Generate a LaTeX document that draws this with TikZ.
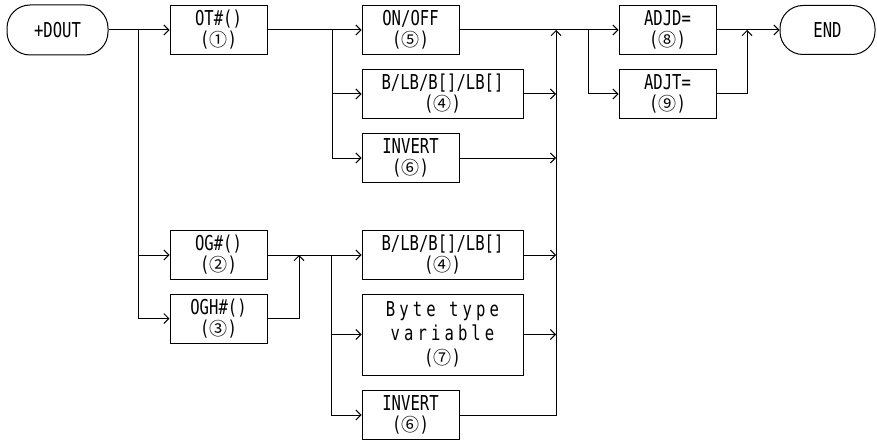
\documentclass[tikz,border=0pt]{standalone}
\usepackage{fontspec}
\setmonofont[FakeStretch=0.76]{DejaVu Sans Mono}
\newfontfamily\circfont{Noto Sans CJK JP}
\usetikzlibrary{arrows.meta}
\newcommand{\cn}[1]{({\circfont\fontsize{18}{21}\selectfont #1})}
\begin{document}
\begin{tikzpicture}[x=1pt,y=-1pt,
  box/.style={draw, line width=1pt, inner sep=0pt, align=center,
    font=\ttfamily\fontsize{20.5}{21}\selectfont},
  term/.style={box, rounded corners=23pt},
  flow/.style={line width=1pt},
  arr/.style={flow, -{Straight Barb[length=5pt,width=10pt]}}]
\useasboundingbox (0,0) rectangle (877,441);
% nodes
\node[term, minimum width=101pt, minimum height=50pt] (dout) at (57.5,30) {+DOUT};
\node[box, minimum width=97pt, minimum height=49pt] (ot) at (218.5,30) {OT\#()\\\cn{①}};
\node[box, minimum width=97pt, minimum height=49pt] (onoff) at (410.5,30) {ON/OFF\\\cn{⑤}};
\node[box, minimum width=161pt, minimum height=49pt] (blb1) at (442.5,94) {B/LB/B[]/LB[]\\\cn{④}};
\node[box, minimum width=97pt, minimum height=49pt] (inv1) at (410.5,158) {INVERT\\\cn{⑥}};
\node[box, minimum width=97pt, minimum height=49pt] (adjd) at (667.5,30) {ADJD=\\\cn{⑧}};
\node[box, minimum width=97pt, minimum height=49pt] (adjt) at (667.5,94) {ADJT=\\\cn{⑨}};
\node[term, minimum width=95pt, minimum height=49pt] (end) at (827.5,30) {END};
\node[box, minimum width=97pt, minimum height=49pt] (og) at (218.5,255) {OG\#()\\\cn{②}};
\node[box, minimum width=97pt, minimum height=49pt] (ogh) at (218.5,318.5) {OGH\#()\\\cn{③}};
\node[box, minimum width=161pt, minimum height=49pt] (blb2) at (442.5,255) {B/LB/B[]/LB[]\\\cn{④}};
\node[box, minimum width=161pt, minimum height=81pt, font=\ttfamily\fontsize{20.5}{24}\selectfont] (byte) at (442.5,334.5)
  {{\addfontfeature{LetterSpace=20}Byte type}\\{\addfontfeature{LetterSpace=20}variable}\\\cn{⑦}};
\node[box, minimum width=97pt, minimum height=49pt] (inv2) at (410.5,415) {INVERT\\\cn{⑥}};
% junctions
\coordinate (b1) at (138,30);
\coordinate (b2) at (332,30);
\coordinate (b3) at (331,255);
\coordinate (m1) at (299,255);
\coordinate (m2) at (556,30);
\coordinate (j1) at (588,30);
\coordinate (m3) at (747,30);
% connectors
\draw[arr] (dout.east) -- (ot.west);
\draw[arr] (b1) |- (og.west);
\draw[arr] (b1) |- (ogh.west);
\draw[arr] (ot.east) -- (onoff.west);
\draw[arr] (b2) |- (blb1.west);
\draw[arr] (b2) |- (inv1.west);
\draw[flow] (onoff.east) -- (j1);
\draw[arr] (j1) -- (adjd.west);
\draw[arr] (j1) |- (adjt.west);
\draw[arr] (blb1.east) -- (blb1.east -| m2);
\draw[arr] (inv1.east) -- (inv1.east -| m2);
\draw[arr] (blb2.east) -- (blb2.east -| m2);
\draw[arr] (byte.east) -- (byte.east -| m2);
\draw[arr] (inv2.east) -| (m2);
\draw[flow] (og.east) -- (b3);
\draw[arr] (ogh.east) -| (m1);
\draw[arr] (b3) -- (blb2.west);
\draw[arr] (b3) |- (byte.west);
\draw[arr] (b3) |- (inv2.west);
\draw[arr] (adjd.east) -- (end.west);
\draw[arr] (adjt.east) -| (m3);
\end{tikzpicture}
\end{document}
